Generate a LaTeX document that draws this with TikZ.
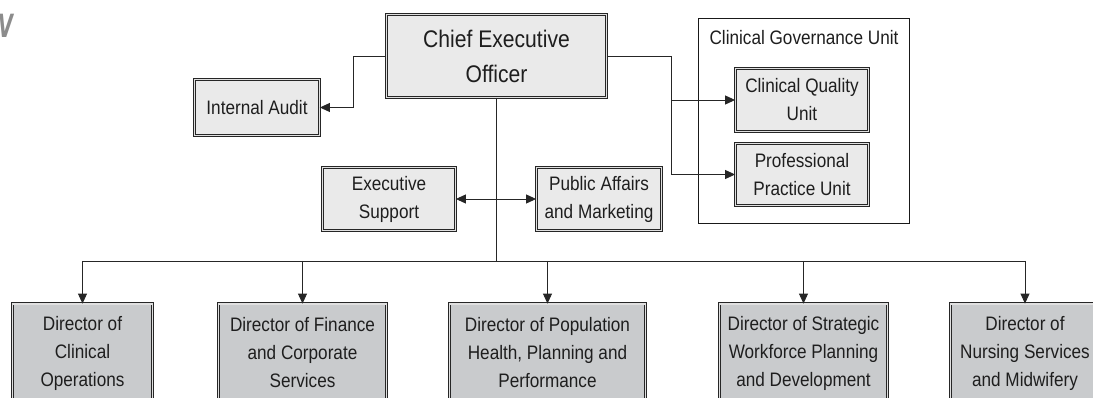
\documentclass[tikz,border=0pt]{standalone}
\usepackage{fontspec}
\setmainfont[FakeStretch=0.88]{Liberation Sans}
\newfontfamily\hdfont{DejaVu Sans}
\usetikzlibrary{arrows.meta}
\definecolor{lightbox}{HTML}{EAEAEA}
\definecolor{dirbox}{HTML}{C9CBCD}
\definecolor{txt}{HTML}{1E1E1E}
\begin{document}
\begin{tikzpicture}[x=1pt,y=1pt,
  unitbox/.style={draw=black!85, line width=0.8pt, double=black!12, double distance=1.4pt,
    fill=lightbox, align=center, inner sep=0pt, text=txt,
    font=\fontsize{19.5}{28}\selectfont},
  dirnode/.style={unitbox, fill=dirbox, minimum height=98},
  conn/.style={draw=black!85, line width=0.9pt},
  arr/.style={conn, -{Triangle[length=10pt,width=9pt]}},
  darr/.style={conn, {Triangle[length=10pt,width=9pt]}-{Triangle[length=10pt,width=9pt]}}]
\useasboundingbox (0,0) rectangle (1093,-398);
\clip (0,0) rectangle (1093,-398);
% partial heading letter
\node[text=black!45, anchor=west, inner sep=0pt, font=\hdfont\fontsize{32}{32}\bfseries\itshape\selectfont] (hd) at (-2,-26) {\scalebox{0.6}[1]{V}};
% governance unit frame
\node[draw=black!90, line width=1.4pt, minimum width=211, minimum height=205, inner sep=0pt] (cgu) at (804,-121) {};
\node[text=txt, font=\fontsize{19.5}{28}\selectfont] (cgulabel) at (804,-38) {Clinical Governance Unit};
% boxes
\node[unitbox, minimum width=220, minimum height=83, font=\fontsize{24}{35}\selectfont] (ceo) at (496.5,-56) {Chief Executive\\Officer};
\node[unitbox, minimum width=125, minimum height=56] (ia) at (257,-107.5) {Internal Audit};
\node[unitbox, minimum width=133, minimum height=63] (cqu) at (802,-100) {Clinical Quality\\Unit};
\node[unitbox, minimum width=133, minimum height=62] (ppu) at (802,-174.5) {Professional\\Practice Unit};
\node[unitbox, minimum width=133, minimum height=63] (es) at (389,-199) {Executive\\Support};
\node[unitbox, minimum width=125, minimum height=63] (pam) at (599,-199) {Public Affairs\\and Marketing};
% directors
\node[dirnode, minimum width=140] (d1) at (82.5,-353) {Director of\\Clinical\\Operations};
\node[dirnode, minimum width=168] (d2) at (302.5,-353) {Director of Finance\\and Corporate\\Services};
\node[dirnode, minimum width=196] (d3) at (547.5,-353) {Director of Population\\Health, Planning and\\Performance};
\node[dirnode, minimum width=168] (d4) at (803.5,-353) {Director of Strategic\\Workforce Planning\\and Development};
\node[dirnode, minimum width=149] (d5) at (1025,-353) {Director of\\Nursing Services\\and Midwifery};
% connectors
\coordinate (bus) at (496.5,-261);
\coordinate (rj) at (671,-56);
\draw[arr] (ceo.west) -- ++(-33,0) |- (ia.east);
\draw[arr] (ceo.east) -- (rj) |- (cqu.west);
\draw[arr] (rj) |- (ppu.west);
\draw[conn] (ceo.south) -- (bus);
\draw[darr] (es.east) -- (pam.west);
\draw[conn] (d1.north |- bus) -- (d5.north |- bus);
\foreach \d in {d1,d2,d3,d4,d5}{
  \draw[arr] (\d.north |- bus) -- (\d.north);
}
\end{tikzpicture}
\end{document}
